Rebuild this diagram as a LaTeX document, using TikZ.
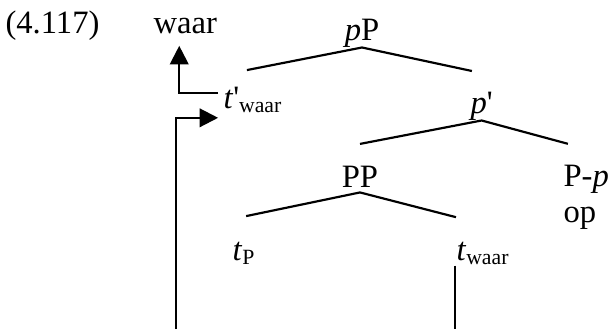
\documentclass[tikz,border=0pt]{standalone}
\usepackage{fontspec}
\setmainfont{Liberation Serif}
\usetikzlibrary{arrows.meta}

\begin{document}
\begin{tikzpicture}[
  x=0.368pt, y=-0.368pt,
  cat/.style={inner sep=0pt, font=\fontsize{12pt}{13.2pt}\selectfont},
  branch/.style={line width=0.8pt, color=black},
  arrow/.style={-{Triangle[length=6.8pt, width=6.8pt]}, line width=0.8pt, color=black},
  link/.style={line width=0.65pt, color=black}
]
\useasboundingbox (0,0) rectangle (613,329);

\node[cat, anchor=base west] (ex) at (5,33) {(4.117)};
\node[cat, anchor=base west] (waar) at (153,33) {waar};
\node[cat, anchor=base] (pP) at (362,40) {\textit{p}P};
\node[cat, anchor=base west] (tpr) at (223,108) {\textit{t}\textquotesingle\textsubscript{waar}};
\node[cat, anchor=base west] (pbar) at (470,113) {\textit{p}\textquotesingle};
\node[cat, anchor=base] (PP) at (360,187) {PP};
\node[cat, anchor=north west, align=left] (Pp) at (563,165) {P-\textit{p}\\op};
\node[cat, anchor=base west] (tP) at (232,260) {\textit{t}\textsubscript{P}};
\node[cat, anchor=base west] (twaar) at (456,260) {\textit{t}\textsubscript{waar}};

\coordinate (footL) at (176,329);
\coordinate (footR) at (455,329);

\draw[branch] ([xshift=8.8pt, yshift=5.9pt]tpr.north west) -- (pP.south) -- ([xshift=0.7pt, yshift=7.4pt]pbar.north west);
\draw[branch] ([yshift=7.8pt]PP.north) -- (pbar.south) -- ([xshift=1.8pt, yshift=7.8pt]Pp.north west);
\draw[branch] ([xshift=5.2pt, yshift=9.2pt]tP.north west) -- ([yshift=-1.8pt]PP.south) -- ([yshift=8.8pt]twaar.north west);

\draw[arrow, shorten <=1.8pt, shorten >=4.4pt] ([yshift=2.6pt]tpr.west) -| ([xshift=-2.2pt]waar.south);
\draw[arrow, shorten >=1.8pt] (footL) |- ([yshift=-6.6pt]tpr.west);
\draw[link] (twaar.south -| footR) -- (footR);

\end{tikzpicture}
\end{document}
